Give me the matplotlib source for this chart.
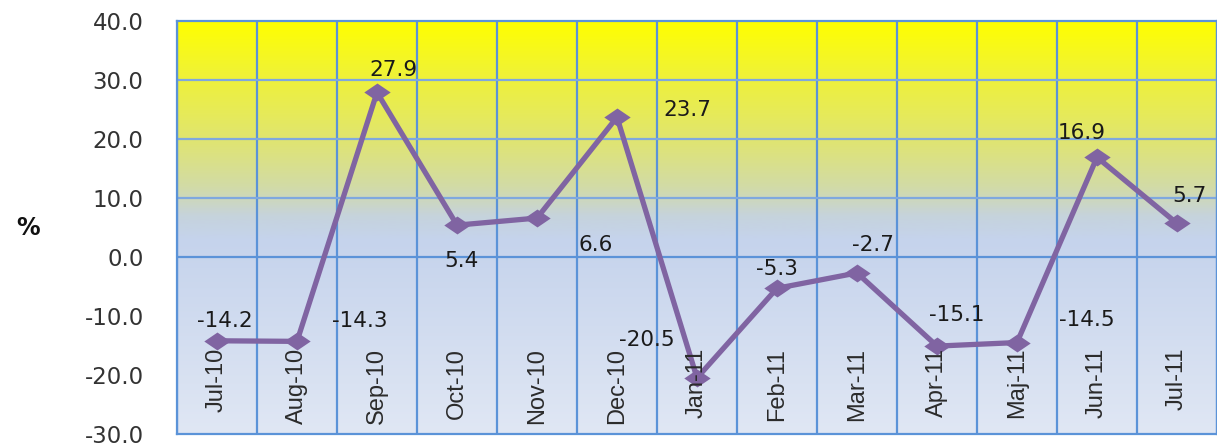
import numpy as np
import matplotlib
matplotlib.use("Agg")
import matplotlib.pyplot as plt
from matplotlib.colors import LinearSegmentedColormap
from matplotlib.path import Path

# ---- data ----
categories = ["Jul-10", "Aug-10", "Sep-10", "Oct-10", "Nov-10", "Dec-10", "Jan-11",
              "Feb-11", "Mar-11", "Apr-11", "Maj-11", "Jun-11", "Jul-11"]
values = [-14.2, -14.3, 27.9, 5.4, 6.6, 23.7, -20.5, -5.3, -2.7, -15.1, -14.5, 16.9, 5.7]
y_ticks = [-30, -20, -10, 0, 10, 20, 30, 40]
y_gridlines = [0, 10, 20, 30]

# label offsets in pixels (layout only)
label_offsets = [(8, 20), (63, 20), (16, 22), (4, -36), (59, -27), (70, 7), (-50, 38),
                 (0, 19), (16, 28), (20, 31), (70, 23), (-15, 24), (13, 27)]

W, H = 1217, 444
fig = plt.figure(figsize=(W / 100, H / 100), dpi=100)
fig.patch.set_facecolor("white")
ax = fig.add_axes([177 / W, 10 / H, 1 - 177 / W, (434 - 21) / H])

ymin, ymax = -30, 40
n = len(categories)
x = np.arange(n)
ax.set_xlim(-0.5, n - 0.5)
ax.set_ylim(ymin, ymax)

# gradient background
stops = [(-30, (224, 231, 244)), (3, (197, 211, 236)), (7, (198, 211, 220)),
         (12, (210, 219, 166)), (20, (224, 229, 112)), (30, (238, 241, 60)), (40, (255, 255, 0))]
cmap = LinearSegmentedColormap.from_list(
    "bg", [((v - ymin) / (ymax - ymin), tuple(c / 255 for c in col)) for v, col in stops])
grad = np.linspace(0, 1, 512).reshape(-1, 1)
ax.imshow(grad, cmap=cmap, origin="lower", aspect="auto",
          extent=(-0.5, n - 0.5, ymin, ymax), zorder=0)

# grid lines
for i in range(n + 1):
    ax.axvline(i - 0.5, color="#5B93D8", lw=1.6, zorder=1)
for gy in y_gridlines:
    ax.axhline(gy, color="#5B93D8" if gy == 0 else "#7FA8DE", lw=1.6, zorder=1)
for s in ax.spines.values():
    s.set_color("#5B93D8")
    s.set_linewidth(1.6)

# series
diamond = Path([(-1, 0), (0, 0.68), (1, 0), (0, -0.68), (-1, 0)],
               [Path.MOVETO, Path.LINETO, Path.LINETO, Path.LINETO, Path.CLOSEPOLY])
ax.plot(x, values, color="#8064A2", lw=3.8, marker=diamond, markersize=19,
        markeredgewidth=0, zorder=3)

# data labels
for xi, v, (dx, dy) in zip(x, values, label_offsets):
    ax.annotate(f"{v:.1f}", (xi, v), xytext=(dx * 0.72, dy * 0.72), textcoords="offset points",
                ha="center", va="center", fontsize=15.5, color="#1a1a1a",
                family="DejaVu Sans", zorder=4)

# category labels inside plot
for xi, c in zip(x, categories):
    ax.text(xi, -15.4, c, rotation=90, ha="center", va="top", fontsize=17,
            color="#2b2b2b", family=["Liberation Sans Narrow", "Liberation Sans", "DejaVu Sans"],
            zorder=5)

ax.set_xticks([])
ax.set_yticks(y_ticks)
ax.set_yticklabels([f"{t:.1f}" for t in y_ticks], fontsize=16.5, color="#333333",
                   family="DejaVu Sans")
ax.tick_params(axis="y", length=0, pad=24)

fig.text(28 / W, 1 - 228 / H, "%", fontsize=17, fontweight="bold", ha="center",
         va="center", color="#111111", family="DejaVu Sans")

fig.savefig("out.png", dpi=100)
